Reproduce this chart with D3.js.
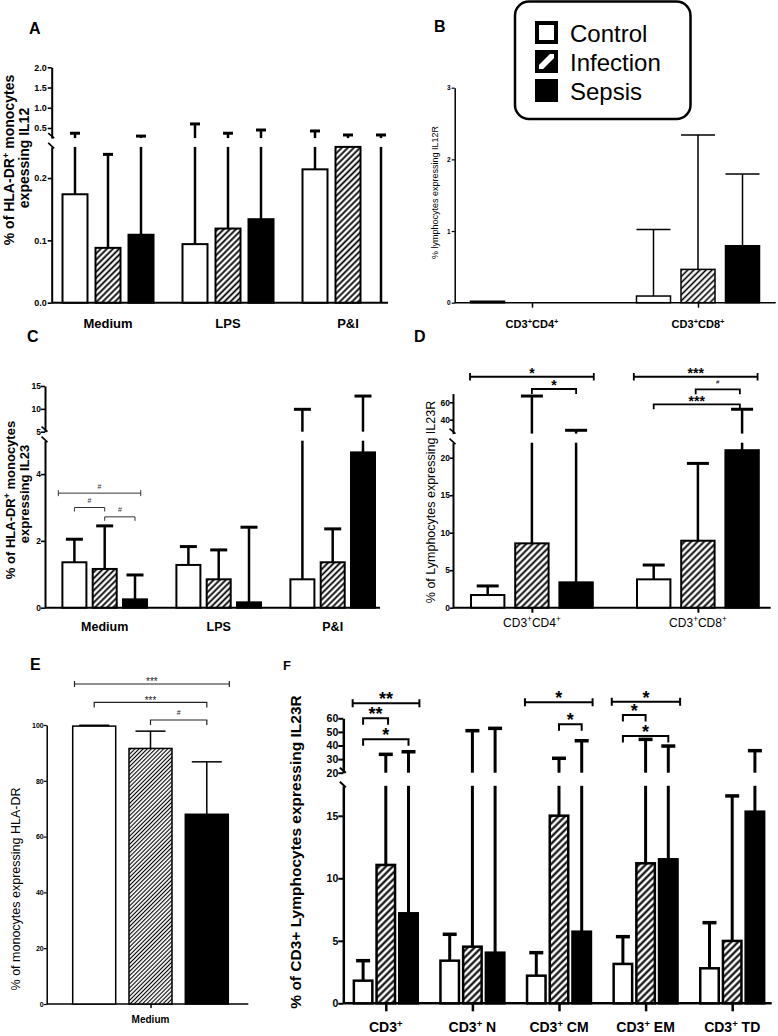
<!DOCTYPE html>
<html>
<head>
<meta charset="utf-8">
<script src="https://cdn.jsdelivr.net/npm/d3@7"></script>
<style>
  body { margin: 0; background: #fff; }
  svg { display: block; }
</style>
</head>
<body>
<svg id="fig" width="778" height="1036"></svg>
<script>
const FONT = '"Liberation Sans", Arial, Helvetica, sans-serif';
const series = ['Control', 'Infection', 'Sepsis'];

// A - IL12 in HLA-DR+ monocytes
const aGroups = ['Medium', 'LPS', 'P&I'];
const aMean = [[0.174, 0.094, 0.214], [0.088, 0.119, 0.25], [0.109, 0.134, 0]];
const aErr = [[0.37, 0.60, 0.426], [0.238, 0.37, 0.327], [0.30, 0.45, 0.327]];
const aTicksLow = [0, 0.1, 0.2];
const aTicksHigh = [0.5, 1.0, 1.5, 2.0];

// B - IL12R on lymphocytes
const bGroups = ['CD3^+CD4^+', 'CD3^+CD8^+'];
const bMean = [[0.02, 0.093], [0, 0.465], [0, 0.795]];
const bErr = [[0, 1.02], [0, 2.34], [0, 1.795]];
const bTicks = [0, 1, 2, 3];

// C - IL23 in HLA-DR+ monocytes
const cGroups = ['Medium', 'LPS', 'P&I'];
const cMean = [[1.36, 1.28, 0.85], [1.16, 0.85, 1.36], [0.25, 0.16, 4.65]];
const cErr = [[2.05, 1.83, 9.9], [2.45, 1.73, 2.36], [0.98, 2.41, 12.8]];
const cTicksLow = [0, 2, 4];
const cTicksHigh = [5, 10, 15];
const cSig = [[0, -0.53, 2.19, 3.43, 'span', '#'], [0, 0, 1, 3.0, 'bracket', '#'], [0, 1, 2, 2.72, 'bracket', '#']];

// D - IL23R on lymphocytes
const dGroups = ['CD3^+CD4^+', 'CD3^+CD8^+'];
const dMean = [[1.69, 3.78], [8.58, 8.93], [3.38, 21.0]];
const dErr = [[2.9, 5.69], [67.2, 19.24], [27.8, 52]];
const dTicksLow = [0, 5, 10, 15, 20];
const dTicksHigh = [40, 60];
const dSig = [[0, -0.4, 2.4, 89.4, 'span', '*'], [0, 1, 2, 75.3, 'bracket', '*'],
  [1, -0.45, 2.35, 89.4, 'span', '***'], [1, 0.95, 1.95, 74.9, 'bracket', '#'], [1, 0, 1.95, 57.7, 'bracket', '***']];

// E - HLA-DR on monocytes
const eGroups = ['Medium'];
const eMean = [[99.6], [91.6], [68.0]];
const eErr = [[99.9], [97.8], [86.8]];
const eTicks = [0, 20, 40, 60, 80, 100];
const eSig = [[0, -0.35, 2.4, 114.7, 'span', '***'], [0, 0, 2, 108.1, 'bracket', '***'], [0, 1, 2, 101.8, 'bracket', '#']];

// F - IL23R on CD3+ subsets
const fGroups = ['CD3^+', 'CD3^+ N', 'CD3^+ CM', 'CD3^+ EM', 'CD3^+ TD'];
const fMean = [[1.81, 3.41, 2.21, 3.15, 2.8], [11.07, 4.53, 15.01, 11.2, 4.99], [7.2, 4.05, 5.73, 11.52, 15.33]];
const fErr = [[3.41, 5.52, 4.05, 5.33, 6.45], [33.5, 50.9, 30.6, 44.5, 16.59], [35.4, 52.6, 43.5, 39.6, 36.2]];
const fTicksLow = [0, 5, 10, 15];
const fTicksHigh = [20, 30, 40, 50, 60];
const fSig = [[0, -0.46, 2.48, 71.0, 'span', '**'], [0, 0, 1.1, 60, 'bracket', '**'], [0, 0, 2, 44.6, 'bracket', '*'],
  [2, -0.5, 2.48, 71.8, 'span', '*'], [2, 1, 2, 55.6, 'bracket', '*'],
  [3, -0.49, 2.52, 72.2, 'span', '*'], [3, 0, 1, 62.4, 'bracket', '*'], [3, 0, 2, 47, 'bracket', '*']];

const svg = d3.select('#fig').attr('font-family', FONT);
const defs = svg.append('defs');
svg.append('rect').attr('width', 778).attr('height', 1036).attr('fill', '#fff');

// text with "^+" turned into superscript plus
function rich(text, str, size) {
  let up = false;
  str.split(/(\^\+)/).filter(Boolean).forEach(part => {
    const t = text.append('tspan');
    if (part === '^+') {
      t.attr('font-size', size * 0.68).attr('dy', -size * 0.38).text('+');
      up = true;
    } else {
      if (up) { t.attr('dy', size * 0.38); up = false; }
      t.text(part);
    }
  });
}

function hatch(id, gap, w) {
  const p = defs.append('pattern').attr('id', id).attr('patternUnits', 'userSpaceOnUse')
    .attr('width', gap).attr('height', gap).attr('patternTransform', 'rotate(45)');
  p.append('rect').attr('width', gap).attr('height', gap).attr('fill', '#fff');
  p.append('line').attr('x1', gap / 2).attr('x2', gap / 2).attr('y1', -1).attr('y2', gap + 1)
    .attr('stroke', '#000').attr('stroke-width', w);
}

function panel(c) {
  const g = svg.append('g');
  const segs = c.segs.map(s => ({ dom: s[0], y: d3.scaleLinear().domain(s[0]).range(s[1]), ticks: s[2] }));
  const base = segs[0].y(segs[0].dom[0]);
  const xg = d3.scalePoint().domain(c.groups).range(c.centers);
  const p = 1 - c.barW / c.step;
  const xs = d3.scaleBand().domain(series).range([-1.5 * c.step, 1.5 * c.step]).paddingInner(p).paddingOuter(p / 2);
  const at = (gi, s) => xg(c.groups[gi]) + (s - 1) * c.step;

  hatch(c.id + 'h', c.hatch[0], c.hatch[1]);
  const fills = ['#fff', `url(#${c.id}h)`, '#000'];

  // x axis
  g.append('line').attr('x1', c.ax).attr('x2', c.xEnd).attr('y1', base).attr('y2', base)
    .attr('stroke', '#000').attr('stroke-width', c.axisW);
  const xa = g.append('g').attr('transform', `translate(0,${base})`)
    .call(d3.axisBottom(xg).tickSize(c.xTick).tickFormat(''));
  xa.select('.domain').remove();
  xa.selectAll('line').attr('stroke-width', c.axisW);
  c.groups.forEach(name => {
    const t = g.append('text').attr('x', xg(name)).attr('y', c.xLabY).attr('text-anchor', 'middle')
      .attr('font-size', c.xLabFs).attr('font-weight', c.xLabBold ? 'bold' : 'normal');
    rich(t, name, c.xLabFs);
  });

  // bars and upper error bars, split over the axis segments
  series.forEach((s, si) => c.groups.forEach((name, gi) => {
    const v = c.mean[si][gi], e = c.err[si][gi];
    const x0 = xg(name) + xs(s), cx = x0 + xs.bandwidth() / 2;
    segs.forEach(sg => {
      const [d0, d1] = sg.dom;
      if (v > d0) {
        const yt = sg.y(Math.min(v, d1));
        g.append('rect').attr('x', x0).attr('width', xs.bandwidth())
          .attr('y', yt).attr('height', sg.y(d0) - yt)
          .attr('fill', fills[si]).attr('stroke', '#000').attr('stroke-width', c.barLw);
      }
      const lo = Math.max(v, d0), hi = Math.min(e, d1);
      if (hi > lo) {
        g.append('line').attr('x1', cx).attr('x2', cx).attr('y1', sg.y(lo)).attr('y2', sg.y(hi))
          .attr('stroke', '#000').attr('stroke-width', c.errLw);
      }
      if (e > v && e >= d0 && e <= d1) {
        g.append('line').attr('x1', cx - c.capW / 2).attr('x2', cx + c.capW / 2)
          .attr('y1', sg.y(e)).attr('y2', sg.y(e))
          .attr('stroke', '#000').attr('stroke-width', c.capLw);
      }
    });
  }));

  // y axis segments
  segs.forEach(sg => {
    const a = g.append('g').attr('transform', `translate(${c.ax},0)`)
      .call(d3.axisLeft(sg.y).tickValues(sg.ticks).tickSize(c.yTick).tickSizeOuter(0)
        .tickPadding(c.yPad).tickFormat(d3.format(c.fmt)));
    a.attr('font-family', FONT).attr('font-size', c.tickFs).attr('font-weight', 'bold');
    a.select('.domain').attr('stroke-width', c.axisW);
    a.selectAll('.tick line').attr('stroke-width', c.axisW * 0.8);
  });
  if (segs.length > 1) {
    const yl = segs[0].y(segs[0].dom[1]), yu = segs[1].y(segs[1].dom[0]);
    [[yu - 5, yu], [yl - 4, yl + 1.5]].forEach(([y1, y2]) => {
      g.append('line').attr('x1', c.ax - 3.5).attr('x2', c.ax + 2.5).attr('y1', y1).attr('y2', y2)
        .attr('stroke', '#000').attr('stroke-width', c.axisW * 0.8);
    });
  }

  // y title
  c.ytitle.forEach(t => {
    const el = g.append('text').attr('transform', `translate(${t.x},${t.y}) rotate(-90)`)
      .attr('text-anchor', 'middle').attr('font-size', t.fs).attr('font-weight', t.bold ? 'bold' : 'normal');
    rich(el, t.text, t.fs);
  });

  // panel letter
  g.append('text').attr('x', c.letter[1]).attr('y', c.letter[2]).attr('font-size', c.letter[3])
    .attr('font-weight', 'bold').text(c.letter[0]);

  // significance brackets
  const sc = segs[c.sigSeg || 0].y;
  (c.sig || []).forEach(([gi, s1, s2, v, kind, label]) => {
    const x1 = at(gi, s1), x2 = at(gi, s2), y = sc(v);
    const h = c.sigH, d = c.sigD;
    const path = kind === 'span'
      ? `M${x1},${y - h}V${y + h}M${x1},${y}H${x2}M${x2},${y - h}V${y + h}`
      : `M${x1},${y + d}V${y}H${x2}V${y + d}`;
    g.append('path').attr('d', path).attr('fill', 'none').attr('stroke', c.sigColor).attr('stroke-width', c.sigLw);
    const hash = label === '#';
    g.append('text').attr('x', (x1 + x2) / 2).attr('y', y - (hash ? c.hashOff : c.starOff))
      .attr('text-anchor', 'middle').attr('fill', c.sigColor)
      .attr('font-size', hash ? c.hashFs : c.sigFs).attr('font-weight', hash ? 'normal' : c.sigWeight)
      .text(label);
  });
}

panel({
  id: 'A', groups: aGroups, mean: aMean, err: aErr,
  segs: [[[0, 0.25], [302.7, 146.9], aTicksLow], [[0.25, 2], [138.1, 67.3], aTicksHigh]],
  ax: 51.7, xEnd: 388, centers: [108, 348], step: 33, barW: 25, capW: 10,
  barLw: 2, errLw: 2.5, capLw: 3, axisW: 2, yTick: 4, yPad: 1, tickFs: 9, fmt: '.1f',
  xTick: 0, xLabY: 328, xLabFs: 13, xLabBold: true, hatch: [4.3, 1.8],
  letter: ['A', 29, 33.5, 16],
  ytitle: [{ text: '% of HLA-DR^+ monocytes', x: 14, y: 160, fs: 14, bold: true },
    { text: 'expessing IL12', x: 29, y: 158, fs: 14, bold: true }]
});

panel({
  id: 'B', groups: bGroups, mean: bMean, err: bErr,
  segs: [[[0, 3], [302.7, 87.7], bTicks]],
  ax: 454.7, xEnd: 775.7, centers: [532, 698], step: 44.5, barW: 34, capW: 34,
  barLw: 1.5, errLw: 1.5, capLw: 1.5, axisW: 1.5, yTick: 3, yPad: 1, tickFs: 6.5, fmt: 'd',
  xTick: 5, xLabY: 328, xLabFs: 11, xLabBold: true, hatch: [4.3, 1.6],
  letter: ['B', 434, 32, 16],
  ytitle: [{ text: '% lymphocytes expressing IL12R', x: 438, y: 192.5, fs: 9, bold: false }]
});

panel({
  id: 'C', groups: cGroups, mean: cMean, err: cErr,
  segs: [[[0, 5], [607.7, 440.7], cTicksLow], [[5, 15], [431.7, 386], cTicksHigh]],
  ax: 45, xEnd: 380, centers: [104.7, 332.7], step: 30.3, barW: 24, capW: 17,
  barLw: 2, errLw: 2.5, capLw: 3, axisW: 2, yTick: 4, yPad: 0, tickFs: 8.5, fmt: 'd',
  xTick: 0, xLabY: 631, xLabFs: 12.5, xLabBold: true, hatch: [4.3, 1.8],
  letter: ['C', 27, 342, 16],
  ytitle: [{ text: '% of HLA-DR^+ monocytes', x: 15, y: 500, fs: 13, bold: true },
    { text: 'expressing IL23', x: 28.5, y: 494, fs: 13, bold: true }],
  sig: cSig, sigSeg: 0, sigColor: '#333', sigLw: 1, sigH: 3, sigD: 4,
  sigFs: 9, sigWeight: 'normal', starOff: 0, hashFs: 7, hashOff: 4.5
});

panel({
  id: 'D', groups: dGroups, mean: dMean, err: dErr,
  segs: [[[0, 22], [607.7, 442.7], dTicksLow], [[24, 70], [433.6, 393.6], dTicksHigh]],
  ax: 453, xEnd: 770.7, centers: [531.9, 697.9], step: 44.2, barW: 33.4, capW: 22,
  barLw: 2, errLw: 2.5, capLw: 3, axisW: 2, yTick: 3, yPad: 0, tickFs: 8.5, fmt: 'd',
  xTick: 5, xLabY: 626.5, xLabFs: 12, xLabBold: false, hatch: [4.6, 1.9],
  letter: ['D', 414, 342, 16],
  ytitle: [{ text: '% of Lymphocytes expressing IL23R', x: 435, y: 502, fs: 12.5, bold: false }],
  sig: dSig, sigSeg: 1, sigColor: '#000', sigLw: 1.8, sigH: 3.7, sigD: 5,
  sigFs: 14, sigWeight: 'bold', starOff: -1.4, hashFs: 6, hashOff: 5
});

panel({
  id: 'E', groups: eGroups, mean: eMean, err: eErr,
  segs: [[[0, 100], [1004, 725], eTicks]],
  ax: 46.7, xEnd: 248.3, centers: [150.5, 150.5], step: 56.3, barW: 43, capW: 30,
  barLw: 1.5, errLw: 1.5, capLw: 1.5, axisW: 1.5, yTick: 3, yPad: 0, tickFs: 7, fmt: 'd',
  xTick: 4, xLabY: 1023.3, xLabFs: 10, xLabBold: true, hatch: [2.9, 1.1],
  letter: ['E', 30, 670, 16],
  ytitle: [{ text: '% of monocytes expressing HLA-DR', x: 20, y: 889, fs: 12.5, bold: false }],
  sig: eSig, sigSeg: 0, sigColor: '#222', sigLw: 1.2, sigH: 3, sigD: 5,
  sigFs: 10, sigWeight: 'normal', starOff: -1.5, hashFs: 7, hashOff: 4.5
});

panel({
  id: 'F', groups: fGroups, mean: fMean, err: fErr,
  segs: [[[0, 17.4], [1003.3, 785.8], fTicksLow], [[20, 60], [772.7, 718.3], fTicksHigh]],
  ax: 343.3, xEnd: 771.7, centers: [385.8, 732.2], step: 22.7, barW: 18.5, capW: 14,
  barLw: 2.5, errLw: 3, capLw: 3.5, axisW: 2.5, yTick: 5, yPad: 0, tickFs: 10.5, fmt: 'd',
  xTick: 8, xLabY: 1032, xLabFs: 14, xLabBold: true, hatch: [4.8, 2.1],
  letter: ['F', 283, 670, 13],
  ytitle: [{ text: '% of CD3+ Lymphocytes expressing  IL23R', x: 301, y: 852, fs: 15.5, bold: true }],
  sig: fSig, sigSeg: 1, sigColor: '#000', sigLw: 2, sigH: 4, sigD: 6.5,
  sigFs: 18, sigWeight: 'bold', starOff: -2, hashFs: 8, hashOff: 5
});

// legend
const lg = svg.append('g');
lg.append('rect').attr('x', 515).attr('y', 1.5).attr('width', 175.5).attr('height', 117.5)
  .attr('rx', 14).attr('fill', '#fff').attr('stroke', '#000').attr('stroke-width', 2.5);
series.forEach((s, i) => {
  const y = 21 + i * 29, x = 535, w = 23;
  if (i === 1) {
    lg.append('rect').attr('x', x).attr('y', y).attr('width', w).attr('height', w).attr('fill', '#000');
    lg.append('line').attr('x1', x + 3).attr('y1', y + w - 3).attr('x2', x + w - 3).attr('y2', y + 3)
      .attr('stroke', '#fff').attr('stroke-width', 6);
  }
  lg.append('rect').attr('x', x + 2).attr('y', y + 2).attr('width', w - 4).attr('height', w - 4)
    .attr('fill', i === 0 ? '#fff' : i === 2 ? '#000' : 'none').attr('stroke', '#000').attr('stroke-width', 4);
  lg.append('text').attr('x', 570).attr('y', y + 20.5).attr('font-size', 24).text(s);
});
</script>
</body>
</html>
